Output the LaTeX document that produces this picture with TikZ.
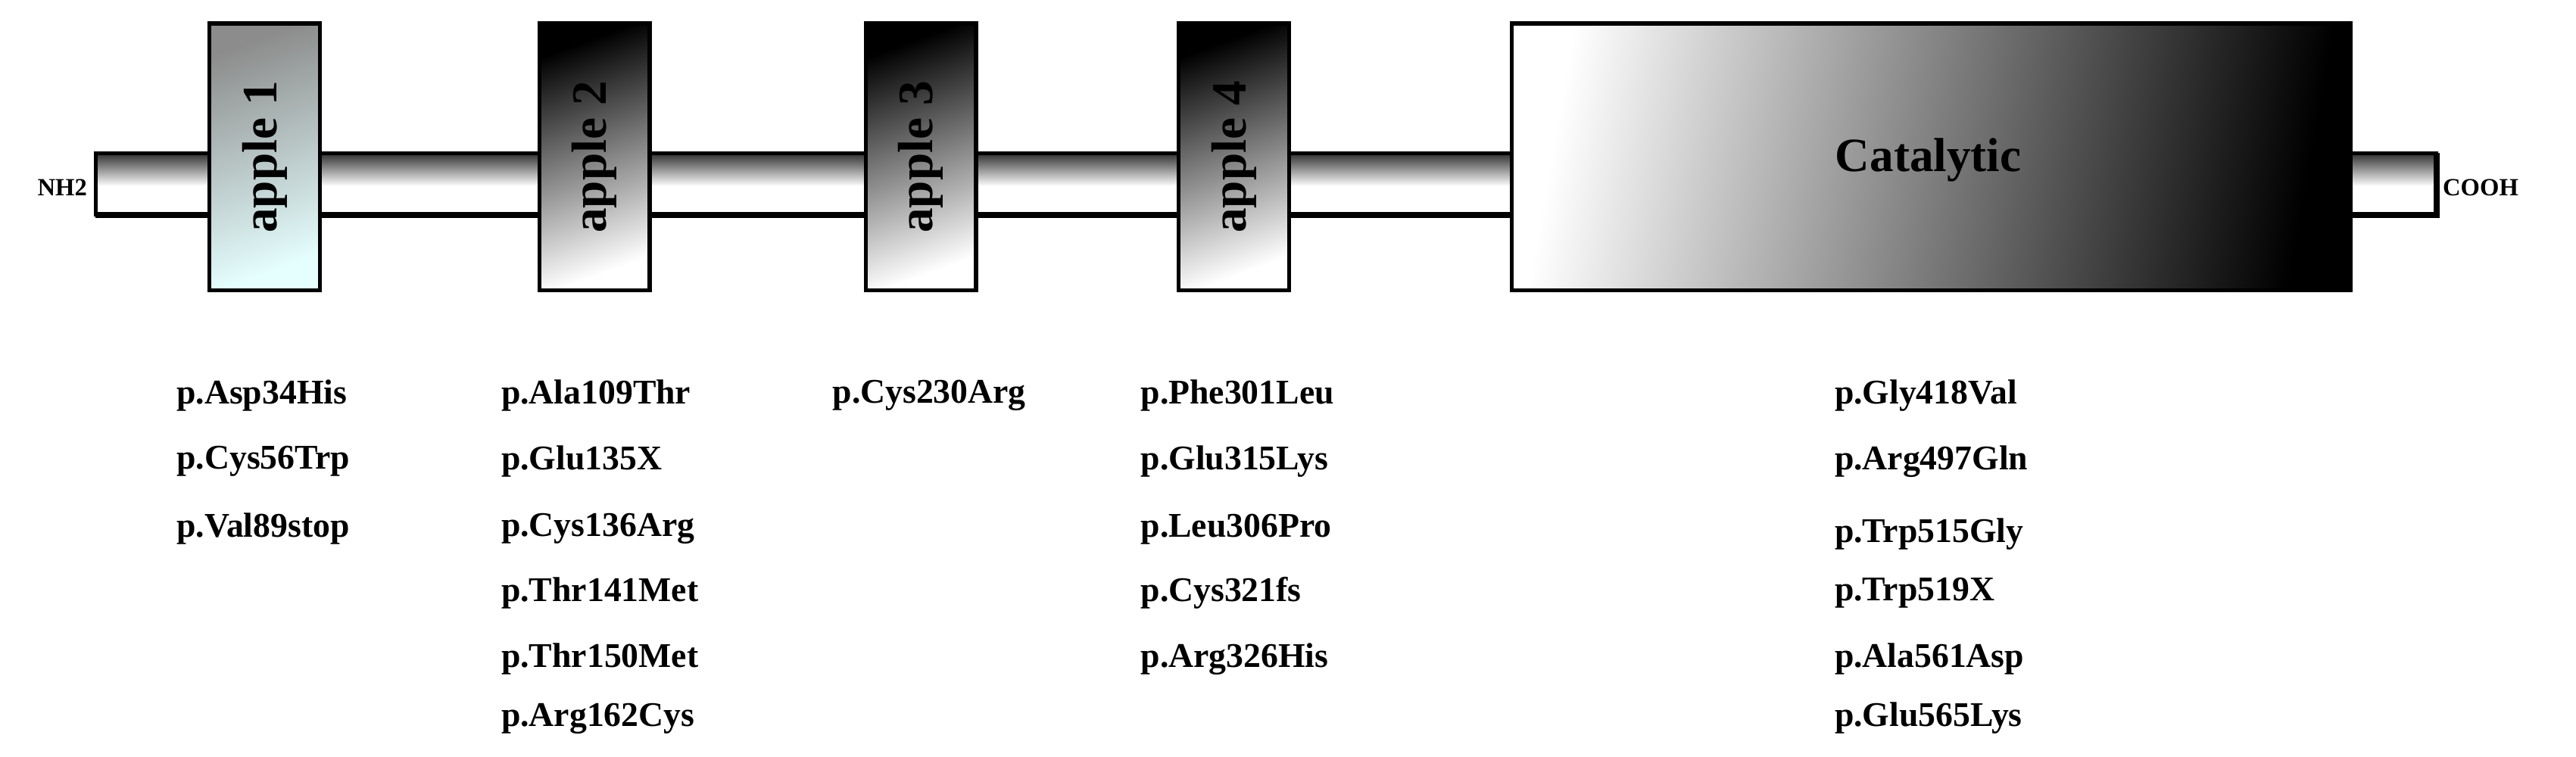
\documentclass[tikz,border=0pt]{standalone}
\usepackage{fontspec}
\setmainfont{Liberation Serif}
\begin{document}
\begin{tikzpicture}[x=1pt,y=-1pt,
  edge/.style={draw=black,line width=2.4pt},
  mut/.style={anchor=west,font=\bfseries\fontsize{21}{24}\selectfont,inner sep=0pt},
  dom/.style={font=\bfseries\fontsize{30}{32}\selectfont,rotate=90}]
\useasboundingbox (0,0) rectangle (1563,459);
% backbone
\node[edge,minimum width=1420pt,minimum height=37pt,inner sep=0pt,top color=black!80,bottom color=white,middle color=white!95!black,anchor=north west] (bar) at (58,93) {};
\shade[top color=black!75,bottom color=white] (58,94.5) rectangle (1478,113);
\shade[top color=white,bottom color=white] (58,113) rectangle (1478,129);
\draw[edge] (58,93) rectangle (1478,130);
% apple 1
\node[edge,minimum width=67pt,minimum height=162pt,inner sep=0pt,anchor=north west,
  top color=black!45,bottom color=cyan!10!white,shading angle=20] (a1) at (126,13) {};
\node[dom] at (a1.center) {apple 1};
\foreach \x/\n/\t in {326/a2/apple 2,524/a3/apple 3,714/a4/apple 4}{
  \node[edge,minimum width=67pt,minimum height=162pt,inner sep=0pt,anchor=north west,
    top color=black,bottom color=white,shading angle=20] (\n) at (\x,13) {};
  \node[dom] at (\n.center) {\t};
}
% catalytic
\node[edge,minimum width=509pt,minimum height=162pt,inner sep=0pt,anchor=north west,
  left color=white,right color=black,shading angle=80] (cat) at (916,13) {};
\node[font=\bfseries\fontsize{29}{32}\selectfont] (catl) at (1170,97) {Catalytic};
\node[anchor=east,font=\bfseries\fontsize{15}{18}\selectfont,inner sep=0pt] (nh) at (53,114) {NH2};
\node[anchor=west,font=\bfseries\fontsize{15}{18}\selectfont,inner sep=0pt] (cooh) at (1482,114) {COOH};
% mutations
\node[mut] (m1) at (107,240) {p.Asp34His};
\node[mut] (m2) at (107,280) {p.Cys56Trp};
\node[mut] (m3) at (107,321) {p.Val89stop};
\node[mut] (m4) at (304,240) {p.Ala109Thr};
\node[mut] (m5) at (304,280) {p.Glu135X};
\node[mut] (m6) at (304,321) {p.Cys136Arg};
\node[mut] (m7) at (304,360) {p.Thr141Met};
\node[mut] (m8) at (304,400) {p.Thr150Met};
\node[mut] (m9) at (304,436) {p.Arg162Cys};
\node[mut] (m10) at (505,240) {p.Cys230Arg};
\node[mut] (m11) at (692,240) {p.Phe301Leu};
\node[mut] (m12) at (692,280) {p.Glu315Lys};
\node[mut] (m13) at (692,321) {p.Leu306Pro};
\node[mut] (m14) at (692,360) {p.Cys321fs};
\node[mut] (m15) at (692,400) {p.Arg326His};
\node[mut] (m16) at (1113,240) {p.Gly418Val};
\node[mut] (m17) at (1113,280) {p.Arg497Gln};
\node[mut] (m18) at (1113,324) {p.Trp515Gly};
\node[mut] (m19) at (1113,360) {p.Trp519X};
\node[mut] (m20) at (1113,400) {p.Ala561Asp};
\node[mut] (m21) at (1113,436) {p.Glu565Lys};
\end{tikzpicture}
\end{document}
